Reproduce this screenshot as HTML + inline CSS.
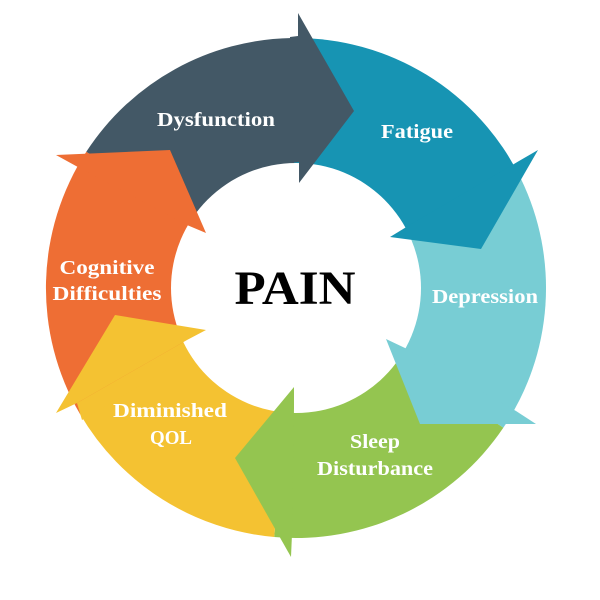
<!DOCTYPE html>
<html><head><meta charset="utf-8"><style>
html,body{margin:0;padding:0;background:#fff;}
svg{display:block;}
text{font-family:"Liberation Serif",serif;font-weight:bold;fill:#fff;font-size:20px;text-anchor:middle;}
</style></head><body>
<svg width="600" height="600" viewBox="0 0 600 600" xmlns="http://www.w3.org/2000/svg">
<g transform="translate(296,288)">
<path d="M0,0 L-4,-250 A250,250 0 0 1 224.7,-109.6 Z" fill="#1794b3"/>
<path d="M0,0 L224.7,-109.6 A250,250 0 0 1 207.3,139.8 Z" fill="#78cdd4"/>
<path d="M0,0 L207.3,139.8 A250,250 0 0 1 -21.8,249 Z" fill="#94c550"/>
<path d="M0,0 L-21.8,249 A250,250 0 0 1 -216,126 Z" fill="#f4c232"/>
<path d="M0,0 L-216,126 A250,250 0 0 1 -209.7,-136.2 Z" fill="#ee6e34"/>
<path d="M0,0 L-209.7,-136.2 A250,250 0 0 1 -4,-250 Z" fill="#435866"/>
</g>
<polygon points="77,403 187,340 200,350 82,420" fill="#f4c232"/>
<circle cx="296" cy="288" r="125" fill="#fff"/>
<polygon points="290,37 298,36 298,13 354,111 299,183 299,162 290,163" fill="#435866"/>
<polygon points="519,161 538,150 481,249 390,237 408,226" fill="#1794b3"/>
<polygon points="516,411 536,424 420,424 386,339 405,348" fill="#78cdd4"/>
<polygon points="294,408 294,387 235,458 291,557 292,534" fill="#94c550"/>
<polygon points="77,403 56,413 115,315 206,330 187,340" fill="#f4c232"/>
<polygon points="76,166 56,155 170,150 206,233 187,225" fill="#ee6e34"/>
<text x="216" y="126" textLength="118" lengthAdjust="spacingAndGlyphs">Dysfunction</text>
<text x="417" y="138" textLength="72" lengthAdjust="spacingAndGlyphs">Fatigue</text>
<text x="485" y="303" textLength="106" lengthAdjust="spacingAndGlyphs">Depression</text>
<text x="375" y="448" textLength="50" lengthAdjust="spacingAndGlyphs">Sleep</text>
<text x="375" y="475" textLength="116" lengthAdjust="spacingAndGlyphs">Disturbance</text>
<text x="170" y="417" textLength="114" lengthAdjust="spacingAndGlyphs">Diminished</text>
<text x="171" y="444" textLength="42" lengthAdjust="spacingAndGlyphs">QOL</text>
<text x="107" y="274" textLength="95" lengthAdjust="spacingAndGlyphs">Cognitive</text>
<text x="107" y="300" textLength="109" lengthAdjust="spacingAndGlyphs">Difficulties</text>
<text x="295" y="304" style="fill:#000;font-size:48px;" textLength="121" lengthAdjust="spacingAndGlyphs">PAIN</text>
</svg>
</body></html>
